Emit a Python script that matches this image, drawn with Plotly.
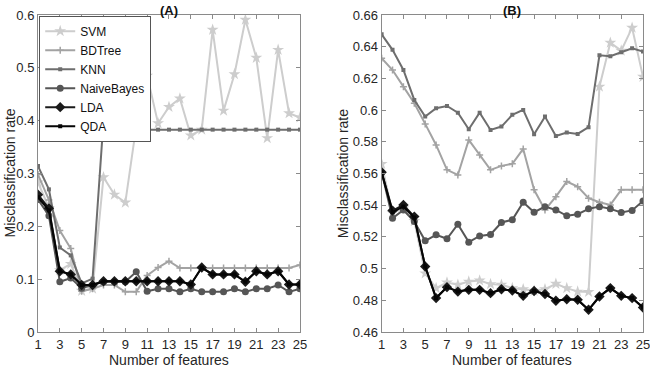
import plotly.graph_objects as go

features = list(range(1, 26))
series_names = ["SVM", "BDTree", "KNN", "NaiveBayes", "LDA", "QDA"]

# Panel (A)
svm_a = [0.283, 0.235, 0.117, 0.129, 0.078, 0.082, 0.293, 0.26, 0.245, 0.389, 0.485, 0.395, 0.426, 0.442, 0.372,
         0.383, 0.572, 0.419, 0.488, 0.591, 0.519, 0.367, 0.534, 0.414, 0.406]
bdtree_a = [0.298, 0.25, 0.192, 0.158, 0.077, 0.082, 0.089, 0.089, 0.076, 0.076, 0.107, 0.122, 0.134, 0.121, 0.121,
            0.121, 0.121, 0.121, 0.121, 0.121, 0.121, 0.121, 0.121, 0.121, 0.127]
knn_a = [0.314, 0.27, 0.16, 0.145, 0.092, 0.101, 0.40, 0.40, 0.40, 0.383, 0.383, 0.383, 0.383, 0.383, 0.383,
         0.383, 0.383, 0.383, 0.383, 0.383, 0.383, 0.383, 0.383, 0.383, 0.383]
nb_a = [0.251, 0.22, 0.095, 0.102, 0.083, 0.089, 0.095, 0.095, 0.095, 0.114, 0.077, 0.082, 0.082, 0.076, 0.082,
        0.076, 0.076, 0.076, 0.082, 0.076, 0.082, 0.082, 0.089, 0.076, 0.082]
lda_a = [0.26, 0.234, 0.115, 0.109, 0.089, 0.089, 0.096, 0.096, 0.096, 0.096, 0.096, 0.096, 0.096, 0.096, 0.09,
         0.122, 0.109, 0.109, 0.109, 0.095, 0.115, 0.109, 0.115, 0.09, 0.09]
qda_a = [0.255, 0.23, 0.115, 0.109, 0.089, 0.089, 0.096, 0.096, 0.096, 0.096, 0.096, 0.096, 0.096, 0.096, 0.09,
         0.122, 0.109, 0.109, 0.109, 0.095, 0.115, 0.109, 0.115, 0.09, 0.09]

# Panel (B)
svm_b = [0.566, 0.535, 0.538, 0.530, 0.497, 0.4877, 0.4912, 0.4898, 0.4918, 0.4925, 0.4902, 0.4898, 0.4877, 0.487,
         0.486, 0.487, 0.4904, 0.4877, 0.4855, 0.4853, 0.6148, 0.6425, 0.6375, 0.652, 0.621]
bdtree_b = [0.6327, 0.6253, 0.6148, 0.6043, 0.5913, 0.578, 0.5623, 0.5591, 0.5812, 0.5717, 0.5623, 0.5648, 0.5661,
            0.5755, 0.5497, 0.537, 0.5454, 0.5549, 0.5517, 0.5444, 0.5419, 0.5402, 0.5497, 0.5497, 0.5497]
knn_b = [0.6478, 0.638, 0.6253, 0.6064, 0.5959, 0.6012, 0.6026, 0.5984, 0.5879, 0.5984, 0.5875, 0.5896, 0.597,
         0.6001, 0.5848, 0.5959, 0.5837, 0.5858, 0.585, 0.5892, 0.6346, 0.634, 0.6365, 0.639, 0.6369]
nb_b = [0.5608, 0.5318, 0.537, 0.5297, 0.5175, 0.5213, 0.5188, 0.528, 0.5167, 0.5206, 0.5215, 0.5291, 0.5308,
        0.5419, 0.5356, 0.5391, 0.537, 0.5333, 0.5343, 0.5377, 0.5391, 0.5377, 0.5354, 0.5367, 0.5427]
lda_b = [0.5608, 0.5366, 0.5402, 0.5328, 0.5013, 0.4814, 0.4883, 0.4855, 0.4866, 0.4866, 0.4845, 0.487, 0.4862,
         0.4828, 0.4859, 0.484, 0.4797, 0.4807, 0.4803, 0.474, 0.4824, 0.4877, 0.4828, 0.4814, 0.4755]
qda_b = [0.5608, 0.5355, 0.5392, 0.5322, 0.5013, 0.4814, 0.4883, 0.4855, 0.4866, 0.4866, 0.4845, 0.487, 0.4862,
         0.4828, 0.4859, 0.484, 0.4797, 0.4807, 0.4803, 0.474, 0.4824, 0.4877, 0.4828, 0.4814, 0.4755]

x_ticks = list(range(1, 26, 2))
y_ticks_a = [0, 0.1, 0.2, 0.3, 0.4, 0.5, 0.6]
y_ticks_b = [0.46, 0.48, 0.5, 0.52, 0.54, 0.56, 0.58, 0.6, 0.62, 0.64, 0.66]

styles = {
    "SVM": dict(color="#cdcdcd", symbol="star", size=9),
    "BDTree": dict(color="#a3a3a3", symbol="cross-thin", size=5),
    "KNN": dict(color="#6e6e6e", symbol="square", size=4),
    "NaiveBayes": dict(color="#565656", symbol="circle", size=7),
    "LDA": dict(color="#1a1a1a", symbol="diamond", size=8),
    "QDA": dict(color="#050505", symbol="square", size=4),
}

data_a = [svm_a, bdtree_a, knn_a, nb_a, lda_a, qda_a]
data_b = [svm_b, bdtree_b, knn_b, nb_b, lda_b, qda_b]

fig = go.Figure()
for panel, datasets, xa, ya in [("A", data_a, "x", "y"), ("B", data_b, "x2", "y2")]:
    for name, ys in zip(series_names, datasets):
        s = styles[name]
        fig.add_trace(go.Scatter(
            x=features, y=ys, name=name, mode="lines+markers", showlegend=(panel == "A"),
            line=dict(color=s["color"], width=2),
            marker=dict(color=s["color"], symbol=s["symbol"], size=s["size"],
                        line=dict(color=s["color"], width=1.5 if s["symbol"] == "cross-thin" else 0)),
            xaxis=xa, yaxis=ya))

axis_common = dict(showgrid=False, zeroline=False, showline=True, mirror="ticks", automargin=False,
                   linecolor="#8a8a8a", linewidth=1, ticks="inside", ticklen=4, ticklabeloverflow="allow",
                   tickcolor="#8a8a8a", tickfont=dict(family="Liberation Sans, Arial", size=13, color="#262626"))

title_font = dict(family="Liberation Sans, Arial", size=14, color="#262626")

fig.update_layout(
    width=650, height=367,
    margin=dict(l=38, r=7, t=15, b=35),
    paper_bgcolor="white", plot_bgcolor="white",
    font=dict(family="Liberation Sans, Arial", size=12, color="#262626"),
    xaxis=dict(domain=[0, 0.433], range=[1, 25], tickvals=x_ticks, anchor="y", **axis_common),
    yaxis=dict(domain=[0, 1], range=[0, 0.6], tickvals=y_ticks_a, anchor="x", **axis_common),
    xaxis2=dict(domain=[0.568, 1], range=[1, 25], tickvals=x_ticks, anchor="y2", **axis_common),
    yaxis2=dict(domain=[0, 1], range=[0.46, 0.66], tickvals=y_ticks_b, anchor="x2", **axis_common),
    legend=dict(x=0.002, y=0.998, xanchor="left", yanchor="top", bgcolor="white",
                bordercolor="#555", borderwidth=1, font=dict(family="Liberation Sans, Arial", size=12, color="#111"),
                tracegroupgap=0, itemwidth=30),
    annotations=[
        dict(text="<b>(A)</b>", x=0.2165, y=1, xref="paper", yref="paper", xanchor="center",
             yanchor="bottom", showarrow=False, font=dict(family="Liberation Sans, Arial", size=13, color="#111"),
             yshift=-5),
        dict(text="<b>(B)</b>", x=0.784, y=1, xref="paper", yref="paper", xanchor="center",
             yanchor="bottom", showarrow=False, font=dict(family="Liberation Sans, Arial", size=13, color="#111"),
             yshift=-5),
        dict(text="Number of features", x=0.2165, y=0, xref="paper", yref="paper", xanchor="center",
             yanchor="middle", yshift=-28, showarrow=False, font=title_font),
        dict(text="Number of features", x=0.784, y=0, xref="paper", yref="paper", xanchor="center",
             yanchor="middle", yshift=-28, showarrow=False, font=title_font),
        dict(text="Misclassification rate", x=0, y=0.5, xref="paper", yref="paper", xanchor="center",
             yanchor="middle", xshift=-29, textangle=-90, showarrow=False, font=title_font),
        dict(text="Misclassification rate", x=0.568, y=0.5, xref="paper", yref="paper", xanchor="center",
             yanchor="middle", xshift=-39, textangle=-90, showarrow=False, font=title_font),
    ],
)

fig.write_html("out.html", config={"displayModeBar": False},
               post_script="document.body.style.margin='0';")
